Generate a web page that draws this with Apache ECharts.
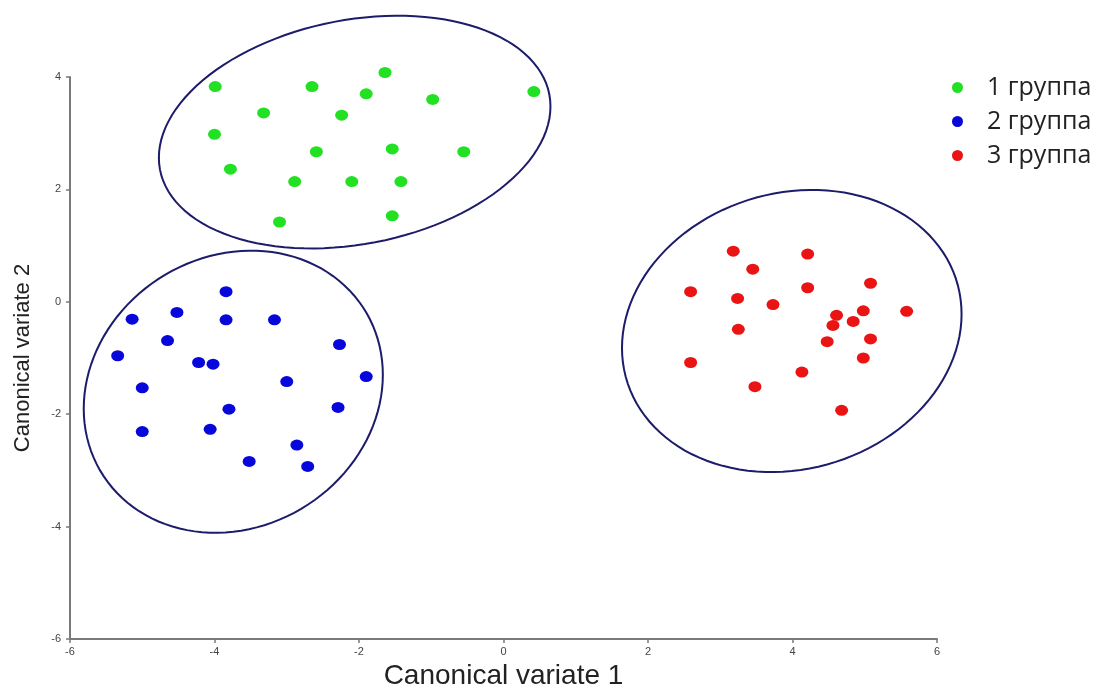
<!DOCTYPE html>
<html>
<head>
<meta charset="utf-8">
<title>Canonical variates</title>
<script src="https://cdn.jsdelivr.net/npm/echarts@6/dist/echarts.min.js"></script>
<style>
	html, body { margin: 0; padding: 0; background: #fff; }
	#main { width: 1102px; height: 688px; }
</style>
</head>
<body>
<div id="main"></div>
<script>
// группы: [canonical variate 1, canonical variate 2]
var groupNames = ['1 группа', '2 группа', '3 группа'];
var groupColors = ['#22e022', '#0707dc', '#ea1414'];

var group1 = [
	[-3.99, 3.83], [-2.65, 3.83], [-1.64, 4.08], [-1.90, 3.70], [-0.98, 3.60],
	[0.42, 3.74], [-3.32, 3.36], [-2.24, 3.32], [-4.00, 2.98], [-2.59, 2.67],
	[-1.54, 2.72], [-0.55, 2.67], [-3.78, 2.36], [-2.89, 2.14], [-2.10, 2.14],
	[-1.42, 2.14], [-3.10, 1.42], [-1.54, 1.53]
];
var group2 = [
	[-3.84, 0.18], [-5.14, -0.31], [-4.52, -0.19], [-3.84, -0.32], [-3.17, -0.32],
	[-4.65, -0.69], [-5.34, -0.96], [-4.22, -1.08], [-4.02, -1.11], [-2.27, -0.76],
	[-1.90, -1.33], [-3.00, -1.42], [-5.00, -1.53], [-3.80, -1.91], [-2.29, -1.88],
	[-5.00, -2.31], [-4.06, -2.27], [-2.86, -2.55], [-3.52, -2.84], [-2.71, -2.93]
];
var group3 = [
	[3.18, 0.90], [4.21, 0.85], [3.45, 0.58], [2.59, 0.18], [4.21, 0.25],
	[5.08, 0.33], [3.24, 0.06], [3.73, -0.05], [5.58, -0.17], [4.98, -0.16],
	[4.61, -0.24], [4.84, -0.35], [4.56, -0.42], [3.25, -0.49], [5.08, -0.66],
	[4.48, -0.71], [4.98, -1.00], [2.59, -1.08], [4.13, -1.25], [3.48, -1.51],
	[4.68, -1.93]
];

// эллипсы рассеяния: центр, полуоси по осям, корреляция
var ellipseCenters = [[-2.06, 3.02], [-3.74, -1.60], [3.99, -0.52]];
var ellipseRadii = [[2.71, 2.07], [2.07, 2.51], [2.35, 2.51]];
var ellipseRho = [0.22, 0.12, 0.12];

var xTicks = { min: -6, max: 6, interval: 2 };
var yTicks = { min: -6, max: 4, interval: 2 };

var chart = echarts.init(document.getElementById('main'));

var ellipseData = ellipseCenters.map(function(c, i) {
	return [c[0], c[1], ellipseRadii[i][0], ellipseRadii[i][1], ellipseRho[i]];
});

var renderEllipse = function(params, api) {
	var cx = api.value(0), cy = api.value(1);
	var rx = api.value(2), ry = api.value(3), rho = api.value(4);
	var k = Math.sqrt(1 - rho * rho);
	var pts = [];
	for (var i = 0; i < 120; i++) {
		var s = i / 120 * Math.PI * 2;
		pts.push(api.coord([
			cx + rx * Math.cos(s),
			cy + ry * (rho * Math.cos(s) - k * Math.sin(s))
		]));
	}
	return {
		type: 'polygon',
		shape: { points: pts },
		style: { fill: 'none', stroke: '#1c1c6b', lineWidth: 2 }
	};
};

var axisCommon = {
	type: 'value',
	splitLine: { show: false },
	axisLine: { show: true, onZero: false, lineStyle: { color: '#7a7a7a', width: 2 } },
	axisTick: { show: true, length: 4, lineStyle: { color: '#7a7a7a', width: 1.5 } },
	axisLabel: { color: '#444', fontSize: 11, fontFamily: 'Liberation Sans' },
	nameLocation: 'middle',
	nameTextStyle: { color: '#222', fontFamily: 'Liberation Sans' }
};

var scatterSeries = [group1, group2, group3].map(function(g, i) {
	return {
		name: groupNames[i],
		type: 'scatter',
		data: g,
		symbol: 'circle',
		symbolSize: [13, 11],
		clip: false,
		itemStyle: { color: groupColors[i], opacity: 1 },
		z: 3
	};
});

var option = {
	animation: false,
	backgroundColor: '#fff',
	grid: { left: 70, right: 165, top: 77, bottom: 49, containLabel: false, outerBoundsMode: 'none' },
	legend: {
		data: groupNames,
		orient: 'vertical',
		left: 947,
		top: 70,
		itemWidth: 13,
		itemHeight: 11,
		itemGap: 9,
		icon: 'circle',
		textStyle: {
			fontFamily: 'Open Sans',
			fontSize: 25,
			lineHeight: 24,
			color: '#222',
			padding: [0, 0, 0, 18]
		}
	},
	xAxis: Object.assign({}, axisCommon, {
		min: xTicks.min, max: xTicks.max, interval: xTicks.interval,
		name: 'Canonical variate 1',
		nameGap: 17,
		nameTextStyle: { color: '#222', fontFamily: 'Liberation Sans', fontSize: 28 },
		axisLabel: Object.assign({}, axisCommon.axisLabel, { margin: 7 })
	}),
	yAxis: Object.assign({}, axisCommon, {
		min: yTicks.min, max: yTicks.max, interval: yTicks.interval,
		name: 'Canonical variate 2',
		nameGap: 36,
		nameTextStyle: { color: '#222', fontFamily: 'Liberation Sans', fontSize: 22 },
		axisLabel: Object.assign({}, axisCommon.axisLabel, { margin: 9 })
	}),
	series: scatterSeries.concat([{
		type: 'custom',
		renderItem: renderEllipse,
		data: ellipseData,
		encode: { x: 0, y: 1 },
		clip: false,
		silent: true,
		z: 2
	}])
};

chart.setOption(option);
</script>
</body>
</html>
